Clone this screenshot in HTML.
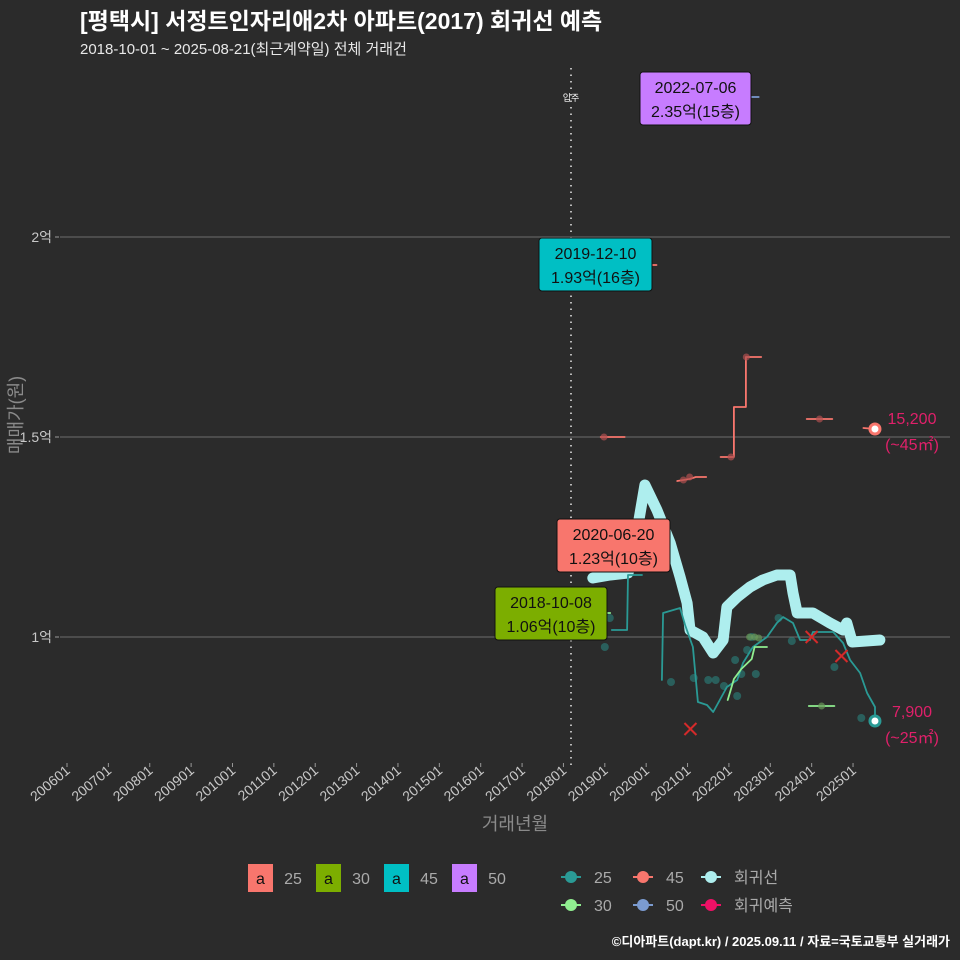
<!DOCTYPE html>
<html><head><meta charset="utf-8">
<style>
body{margin:0;background:#2b2b2b;}
svg{display:block;font-family:"Liberation Sans","Noto Sans CJK KR",sans-serif;}
</style></head>
<body>
<svg id="c" width="960" height="960" viewBox="0 0 960 960">
<rect width="960" height="960" fill="#2b2b2b"/>
<text x="80" y="29" fill="#ffffff" font-size="23" font-weight="bold">[평택시] 서정트인자리애2차 아파트(2017) 회귀선 예측</text>
<text x="80" y="54" fill="#e8e8e8" font-size="15">2018-10-01 ~ 2025-08-21(최근계약일) 전체 거래건</text>
<g id="grid"></g><g id="marks"></g><g id="labels"></g>
<text transform="translate(22,415) rotate(-90)" text-anchor="middle" fill="#8a8a8a" font-size="18">매매가(원)</text>
<text x="515" y="830" text-anchor="middle" fill="#8a8a8a" font-size="18">거래년월</text>
<g id="legend"></g>
<text x="950" y="946" text-anchor="end" fill="#ffffff" font-size="13" font-weight="bold">©디아파트(dapt.kr) / 2025.09.11 / 자료=국토교통부 실거래가</text>
</svg>
<script>
const xTicks=[2006,2007,2008,2009,2010,2011,2012,2013,2014,2015,2016,2017,2018,2019,2020,2021,2022,2023,2024,2025];
const yTicks=[10000,15000,20000];
const yTickLabels=["1억","1.5억","2억"];
const regT=[2018.71,2019.13,2019.56,2019.66,2019.97,2020.26,2020.58,2020.82,2020.99,2021.06,2021.37,2021.62,2021.86,2021.95,2022.20,2022.51,2022.82,2023.16,2023.48,2023.55,2023.65,2024.03,2024.44,2024.76,2024.85,2024.98,2025.65];
const regV=[11475,11550,11600,11925,13800,13175,12350,11500,10850,10175,10000,9600,9925,10750,11000,11250,11425,11550,11550,11100,10600,10600,10350,10175,10350,9875,9925];
const a25T=[2019.17,2019.54,2019.56,2019.9];
const a25V=[10175,10175,11550,11550];
const b25T=[2020.38,2020.41,2020.82,2020.94,2021.13,2021.25,2021.47,2021.62,2021.78,2021.95,2022.20,2022.34,2022.58,2022.92,2023.16,2023.31,2023.55,2023.72,2023.96,2024.03,2024.52,2024.76,2024.93,2025.17,2025.34,2025.53,2025.53];
const b25V=[8925,10600,10725,10300,9750,8375,8300,8125,8425,8750,8925,9350,9750,10000,10350,10500,10350,9925,9925,10125,10125,9850,9425,9100,8600,8250,7900];
const d25T=[2019.0,2019.12,2020.6,2021.15,2021.5,2021.68,2021.88,2022.2,2022.15,2022.3,2022.44,2022.55,2022.65,2023.2,2023.52,2024.55,2025.2];
const d25V=[9750,10475,8875,8975,8925,8925,8775,8525,9425,9075,9675,10000,9075,10475,9900,9250,7975];
const c30aT=[2018.77,2019.13];const c30aV=[10600,10600];
const c30bT=[2021.97,2022.05,2022.12,2022.3,2022.55,2022.62,2022.92];
const c30bV=[8425,8700,8950,9200,9450,9750,9750];
const c30cT=[2023.93,2024.55];const c30cV=[8275,8275];
const d30T=[2018.77,2022.5,2022.62,2022.72,2024.24];
const d30V=[10600,10000,10000,9975,8275];
const s45=[[2018.9,2019.48,15000,15000],[2019.85,2020.25,19300,19300]];
const e45T=[2020.75,2020.9,2021.05,2021.2,2021.45];
const e45V=[13900,13925,13950,14000,14000];
const f45T=[2021.8,2022.12,2022.12,2022.41,2022.41,2022.78];
const f45V=[14500,14500,15750,15750,17000,17000];
const g45T=[2023.88,2024.5];const g45V=[15450,15450];
const d45T=[2018.98,2019.92,2020.9,2021.05,2022.05,2022.42,2024.19];
const d45V=[15000,19300,13925,14000,14500,17000,15450];
const h45T=[2025.25,2025.53];const h45V=[15225,15200];
const s50T=[2022.28,2022.72];const s50V=[23500,23500];
const d50T=[2022.45];const d50V=[23500];
const predT=[2021.07,2024.0,2024.72];const predV=[7700,10000,9525];
const X=t=>67+(t-2006)*41.37;
const Y=v=>637-(v-10000)*0.04;
const NS="http://www.w3.org/2000/svg";
function mk(tag,attrs,parent){const e=document.createElementNS(NS,tag);for(const k in attrs)e.setAttribute(k,attrs[k]);parent.appendChild(e);return e;}
const grid=document.getElementById('grid'),marks=document.getElementById('marks'),labels=document.getElementById('labels');
yTicks.forEach((v,i)=>{
 const l=mk('line',{x1:60,x2:950,y1:Y(v),y2:Y(v),stroke:'#6e6e6e','stroke-width':1},grid);
 
 
 const tk=mk('line',{x1:55,x2:59,y1:Y(v),y2:Y(v),stroke:'#999'},grid);
 
 
 const t=mk('text',{x:52,y:Y(v)+5,'text-anchor':'end',fill:'#c8c8c8','font-size':14},grid);t.textContent=yTickLabels[i];
 
 
});
xTicks.forEach(yr=>{
 const x=X(yr);
 const tk=mk('line',{x1:x,x2:x,y1:763,y2:767,stroke:'#999'},grid);
 
 
 const t=mk('text',{transform:`translate(${x+4},${772}) rotate(-40)`,'text-anchor':'end',fill:'#c8c8c8','font-size':14},grid);
 t.textContent=yr+'01';
 
 
});
const vl=mk('line',{x1:571,x2:571,y1:68,y2:765,stroke:'#bbbbbb','stroke-width':2,'stroke-dasharray':'1.5 5'},grid);


const ml=mk('text',{x:571,y:101,'text-anchor':'middle',fill:'#fff','font-size':9},grid);ml.textContent='입주';


function path(T,V,color,w,name,op){
 const d=T.map((t,i)=>(i?'L':'M')+X(t).toFixed(1)+','+Y(V[i]).toFixed(1)).join('');
 const p=mk('path',{d:d,fill:'none',stroke:color,'stroke-width':w,'stroke-linejoin':'round','stroke-linecap':'round',opacity:op||1},marks);
 
 
}
function dots(T,V,color,name,r,op){
 T.forEach((t,i)=>{const c=mk('circle',{cx:X(t),cy:Y(V[i]),r:r||3.5,fill:color,opacity:op||0.5},marks);
 
 });
}
path(regT,regV,'#aeeeee',11,'regression-line');
dots(d25T,d25V,'#2a8a85','point-25',4,0.55);
path(a25T,a25V,'#2a9a95',1.8,'line-25');
path(b25T,b25V,'#2a9a95',1.8,'line-25');
path(c30aT,c30aV,'#90ee90',1.8,'line-30');
path(c30bT,c30bV,'#90ee90',1.8,'line-30');
path(c30cT,c30cV,'#90ee90',1.8,'line-30');
dots(d30T,d30V,'#6a9a5a','point-30',3.5,0.7);
s45.forEach(s=>path([s[0],s[1]],[s[2],s[3]],'#f8766d',1.8,'line-45'));
path(e45T,e45V,'#f8766d',1.8,'line-45');
path(f45T,f45V,'#f8766d',1.8,'line-45');
path(g45T,g45V,'#f8766d',1.8,'line-45');
path(h45T,h45V,'#f8766d',1.8,'line-45');
dots(d45T,d45V,'#b05050','point-45',3.5,0.7);
path(s50T,s50V,'#7b9bd0',1.8,'line-50');
dots(d50T,d50V,'#6a7a9a','point-50',3.5,0.8);
predT.forEach((t,i)=>{const x=X(t),y=Y(predV[i]);
 const p=mk('path',{d:`M${x-6},${y-6}L${x+6},${y+6}M${x-6},${y+6}L${x+6},${y-6}`,stroke:'#d42a2a','stroke-width':2},marks);
 
 });
[[2025.53,15200,'#f8766d','end-point-45'],[2025.53,7900,'#2a9a95','end-point-25']].forEach(e=>{
 const c=mk('circle',{cx:X(e[0]),cy:Y(e[1]),r:5,fill:'#fff',stroke:e[2],'stroke-width':3},marks);
 
 });
function endLabel(x,y,a,b,name){
 const t=mk('text',{x:x,y:y,'text-anchor':'middle',fill:'#e0206a','font-size':16},labels);t.textContent=a;
 
 
 const t2=mk('text',{x:x,y:y+26,'text-anchor':'middle',fill:'#e0206a','font-size':16},labels);t2.textContent=b;
 
 
}
endLabel(912,424,'15,200','(~45㎡)','end-label-45');
endLabel(912,717,'7,900','(~25㎡)','end-label-25');
function box(x,y,w,color,l1,l2,name){
 const g=mk('g',{},labels);
 
 
 mk('rect',{x:x,y:y,width:w,height:53,rx:3,fill:color,stroke:'#111','stroke-width':1},g);
 const a=mk('text',{x:x+w/2,y:y+21,'text-anchor':'middle',fill:'#111','font-size':16},g);a.textContent=l1;
 const b=mk('text',{x:x+w/2,y:y+45,'text-anchor':'middle',fill:'#111','font-size':16},g);b.textContent=l2;
}
box(640,72,111,'#c77cff','2022-07-06','2.35억(15층)','label-max-50');
box(539,238,113,'#00bfc4','2019-12-10','1.93억(16층)','label-max-45');
box(557,519,113,'#f8766d','2020-06-20','1.23억(10층)','label-max-25');
box(495,587,112,'#7cae00','2018-10-08','1.06억(10층)','label-max-30');
const lg=document.getElementById('legend');
[['#f8766d','25',248],['#7cae00','30',316],['#00bfc4','45',384],['#c77cff','50',452]].forEach(e=>{
 const g=mk('g',{},lg);
 
 
 mk('rect',{x:e[2],y:864,width:25,height:28,fill:e[0]},g);
 const a=mk('text',{x:e[2]+12.5,y:884,'text-anchor':'middle',fill:'#111','font-size':16},g);a.textContent='a';
 const t=mk('text',{x:e[2]+45,y:884,'text-anchor':'middle',fill:'#aaa','font-size':16},g);t.textContent=e[1];
});
[['#2a9a95','25',571,877],['#f8766d','45',643,877],['#aeeeee','회귀선',711,877],['#90ee90','30',571,905],['#7b9bd0','50',643,905],['#ee1166','회귀예측',711,905]].forEach(e=>{
 const g=mk('g',{},lg);
 
 
 mk('line',{x1:e[2]-10,x2:e[2]+10,y1:e[3],y2:e[3],stroke:e[0],'stroke-width':2},g);
 mk('circle',{cx:e[2],cy:e[3],r:6,fill:e[0]},g);
 const t=mk('text',{x:e[2]+23,y:e[3]+6,fill:'#aaa','font-size':16},g);t.textContent=e[1];
});
</script>
</body></html>
